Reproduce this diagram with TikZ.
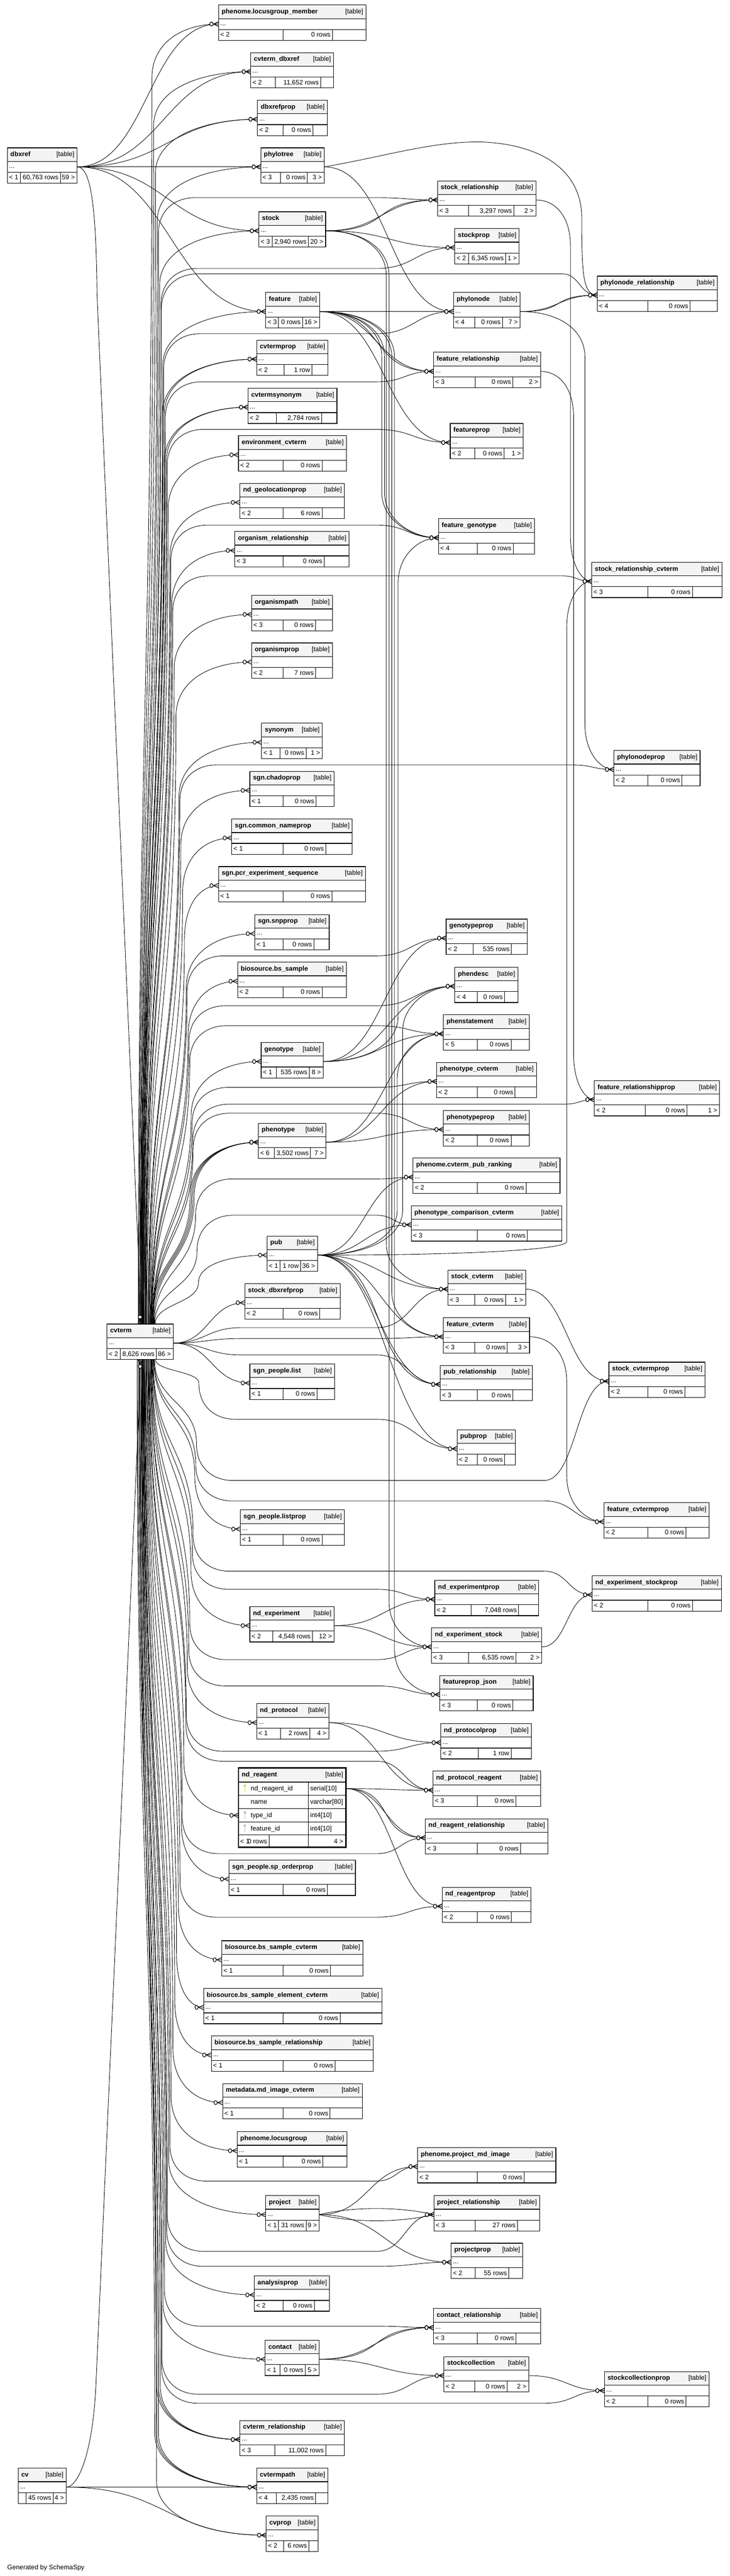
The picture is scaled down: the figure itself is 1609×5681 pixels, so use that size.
\documentclass[tikz,border=0pt]{standalone}
\usepackage{fontspec}
\setmainfont{Liberation Sans}
\usetikzlibrary{calc}
\pgfdeclarelayer{back}
\pgfdeclarelayer{bg}
\pgfdeclarelayer{fg}
\pgfsetlayers{back,bg,main,fg}
\definecolor{hdrfill}{RGB}{244,244,244}
\definecolor{keyyellow}{RGB}{225,215,0}
\definecolor{keygray}{RGB}{185,185,185}
\newcommand\tfont{\fontsize{14.5}{17}\selectfont}
\tikzset{
  fk/.style={line width=1pt, draw=black},
  crowln/.style={line width=1.3pt, draw=black},
  tblbox/.style={draw=black, line width=1.3pt, fill=white, anchor=north west, inner sep=0pt, outer sep=0pt, minimum height=78pt},
  hdrbox/.style={draw=black, line width=1.3pt, fill=hdrfill, anchor=north west, inner sep=0pt, outer sep=0pt, minimum height=30pt},
  rowbox/.style={draw=black, line width=1.3pt, fill=white, anchor=north west, inner sep=0pt, outer sep=0pt, minimum height=24pt},
  cellln/.style={line width=0.9pt, draw=black},
  txt/.style={inner sep=0pt, outer sep=0pt, font=\tfont},
  tbold/.style={inner sep=0pt, outer sep=0pt, font=\tfont\bfseries},
}
\newcommand\setport[4]{%
  \expandafter\xdef\csname wx:#1\endcsname{#2}%
  \expandafter\xdef\csname ex:#1\endcsname{#3}%
  \expandafter\xdef\csname py:#1\endcsname{#4}}
\newcommand\WX[1]{\csname wx:#1\endcsname}
\newcommand\EX[1]{\csname ex:#1\endcsname}
\newcommand\PY[1]{\csname py:#1\endcsname}
% table: id x1 y1 x2 name
\newcommand\dbt[5]{%
  \pgfmathsetmacro\tW{#4-#2}%
  \pgfmathsetmacro\tPy{#3+42}%
  \setport{#1-r}{#2}{#4}{\tPy}%
  \xdef\tXa{#2}\xdef\tXb{#4}\xdef\tY{#3}%
  \node[tblbox, minimum width=\tW pt] (#1-box) at (#2,#3) {};%
  \node[hdrbox, minimum width=\tW pt] (#1) at (#2,#3) {};%
  \node[tbold, anchor=base west] (#1-name) at ([xshift=7pt,yshift=-4pt]#1.west) {#5};%
  \node[txt, anchor=base east] (#1-tag) at ([xshift=-6pt,yshift=-4pt]#1.east) {[table]};%
  \node[rowbox, minimum width=\tW pt] (#1-r) at (#1.south west) {};%
  \node[txt, anchor=base west] (#1-dots) at ([xshift=4pt,yshift=-3pt]#1-r.west) {...};%
}
% footer: id s1 s2 f1 f2 f3
\newcommand\dbf[6]{%
  \draw[cellln] (#2,\tY+54) -- (#2,\tY+78) (#3,\tY+54) -- (#3,\tY+78);%
  \node[txt, anchor=base west] (#1-fa) at (\tXa+4,\tY+70.5) {#4};%
  \node[txt, anchor=base east] (#1-fb) at (#3-4,\tY+70.5) {#5};%
  \node[txt, anchor=base east] (#1-fc) at (\tXb-5,\tY+70.5) {#6};%
}
\newcommand\crow[1]{%
  \begin{pgfonlayer}{fg}%
  \draw[crowln] ([xshift=-11pt]#1.west) -- ([yshift=5pt]#1.west) ([xshift=-11pt]#1.west) -- ([yshift=-5pt]#1.west);%
  \draw[crowln, fill=white] ([xshift=-15.5pt]#1.west) ellipse [x radius=3.6pt, y radius=4.4pt];%
  \end{pgfonlayer}}
\newcommand\sedge[3][0]{%
  \pgfmathsetmacro\eK{max(40,0.5*abs(\WX{#3}-\EX{#2}))+#1}%
  \begin{pgfonlayer}{bg}\draw[fk] (#2.east) .. controls +(\eK,0) and +(-\eK,0) .. (#3.west);\end{pgfonlayer}%
  \crow{#3}}
\newcommand\tedge[4][100]{%
  \pgfmathsetmacro\eAx{\EX{#2}}\pgfmathsetmacro\eAy{\PY{#2}}%
  \pgfmathsetmacro\eBx{\WX{#3}}\pgfmathsetmacro\eBy{\PY{#3}}%
  \pgfmathsetmacro\eS{sign(\eBy-\eAy)}%
  \pgfmathsetmacro\eYa{\eAy+\eS*#1}\pgfmathsetmacro\eYb{\eBy-\eS*100}%
  \pgfmathsetmacro\eCya{\eAy+\eS*0.4*#1}\pgfmathsetmacro\eCyb{\eBy-\eS*40}%
  \pgfmathsetmacro\eCa{\eAx+0.6*(#4-\eAx)}\pgfmathsetmacro\eCb{#4+0.5*(\eBx-#4)}%
  \begin{pgfonlayer}{bg}\draw[fk] (#2.east) .. controls (\eCa,\eAy) and (#4,\eCya) .. (#4,\eYa) -- (#4,\eYb) .. controls (#4,\eCyb) and (\eCb,\eBy) .. (#3.west);\end{pgfonlayer}%
  \crow{#3}}
\newcommand\cvdrawA[2]{\begin{pgfonlayer}{bg}\draw[fk] ([xshift=\eDx pt]cvterm-box.#1) .. controls (\eXo,\eYm) and (\eXb,\eYm) .. (\eXb,\eYp) .. controls (\eXb,\eYc) and (\eXc,\eBy) .. (#2.west);\end{pgfonlayer}}
\newcommand\cvdrawB[2]{\begin{pgfonlayer}{bg}\draw[fk] ([xshift=\eDx pt]cvterm-box.#1) .. controls (\eXo,\eYm) and (\eXb,\eYm) .. (\eXb,\eYp) .. controls (\eXb,\eYc) and (\eXq,\eYg) .. (\eXh,\eYg) -- (\eXm,\eYg) .. controls (\eXc,\eYg) and (\eXc,\eBy) .. (#2.west);\end{pgfonlayer}}
\newcommand\cvA[2][0]{%
  \pgfmathsetmacro\eBx{\WX{#2}}\pgfmathsetmacro\eBy{\PY{#2}}%
  \pgfmathsetmacro\eS{sign(\eBy-2960)}%
  \pgfmathsetmacro\eYs{\eS<0 ? 2920 : 2998}%
  \pgfmathsetmacro\eF{min(1,abs(\eBy-2960)/2900)}%
  \pgfmathsetmacro\eDx{36-40*\eF+#1}%
  \pgfmathsetmacro\eXo{345-40*\eF+#1}%
  \pgfmathsetmacro\eXb{445-110*\eF+#1}%
  \pgfmathsetmacro\eR{min(120,0.4*abs(\eBy-\eYs))}%
  \pgfmathsetmacro\eYp{\eBy-\eS*\eR}%
  \pgfmathsetmacro\eYm{(\eYs+\eYp)/2}%
  \pgfmathsetmacro\eYc{\eBy-\eS*0.3*\eR}%
  \pgfmathsetmacro\eXc{\eXb+0.5*(\eBx-\eXb)}%
  \ifdim\eS pt<0pt \cvdrawA{north}{#2}\else\cvdrawA{south}{#2}\fi
  \crow{#2}}
\newcommand\cvB[4][0]{%
  \pgfmathsetmacro\eBx{\WX{#2}}\pgfmathsetmacro\eBy{\PY{#2}}%
  \pgfmathsetmacro\eS{sign(#3-2960)}%
  \pgfmathsetmacro\eYs{\eS<0 ? 2920 : 2998}%
  \pgfmathsetmacro\eF{min(1,abs(#3-2960)/2900)}%
  \pgfmathsetmacro\eDx{36-40*\eF+#1}%
  \pgfmathsetmacro\eXo{345-40*\eF+#1}%
  \pgfmathsetmacro\eXb{445-110*\eF+#1}%
  \pgfmathsetmacro\eYp{#3-\eS*80}%
  \pgfmathsetmacro\eYm{(\eYs+\eYp)/2}%
  \pgfmathsetmacro\eYc{#3-\eS*24}%
  \pgfmathsetmacro\eXq{\eXb+40}\pgfmathsetmacro\eXh{\eXb+80}%
  \pgfmathsetmacro\eXc{#4+0.5*(\eBx-#4)}%
  \def\eYg{#3}\def\eXm{#4}%
  \ifdim\eS pt<0pt \cvdrawB{north}{#2}\else\cvdrawB{south}{#2}\fi
  \crow{#2}}
\newcommand\cvE[3]{%
  \pgfmathsetmacro\eBx{\WX{#1}}\pgfmathsetmacro\eBy{\PY{#1}}%
  \pgfmathsetmacro\eXc{#3+0.5*(\eBx-#3)}%
  \begin{pgfonlayer}{bg}\draw[fk] (cvterm-r.east) .. controls (450,2962) and (460,#2) .. (530,#2) -- (#3,#2) .. controls (\eXc,#2) and (\eXc,\eBy) .. (#1.west);\end{pgfonlayer}%
  \crow{#1}}

\begin{document}
\begin{tikzpicture}[x=1pt,y=-1pt]
\useasboundingbox (0,0) rectangle (1609,5681);
\begin{pgfonlayer}{back}\fill[white] (0,0) rectangle (1609,5681);\end{pgfonlayer}

% ---------------- tables ----------------
\dbt{lgm}{482}{11}{807}{phenome.locusgroup\_member}\dbf{lgm}{624}{733}{< 2}{0 rows}{}
\dbt{cvdbx}{553}{116}{736}{cvterm\_dbxref}\dbf{cvdbx}{607}{707}{< 2}{11,652 rows}{}
\dbt{dbxp}{568}{221}{722}{dbxrefprop}\dbf{dbxp}{624}{690}{< 2}{0 rows}{}
\dbt{dbxref}{16}{326}{170}{dbxref}\dbf{dbxref}{45}{133}{< 1}{60,763 rows}{59 >}
\dbt{ptree}{575}{326}{715}{phylotree}\dbf{ptree}{619}{678}{< 3}{0 rows}{3 >}
\dbt{stock}{571}{467}{718}{stock}\dbf{stock}{600}{680}{< 3}{2,940 rows}{20 >}
\dbt{srel}{965}{399}{1182}{stock\_relationship}\dbf{srel}{1033}{1133}{< 3}{3,297 rows}{2 >}
\dbt{sprop}{1003}{504}{1145}{stockprop}\dbf{sprop}{1033}{1115}{< 2}{6,345 rows}{1 >}
\dbt{pnrel}{1317}{609}{1582}{phylonode\_relationship}\dbf{pnrel}{1429}{1522}{< 4}{0 rows}{}
\dbt{pnode}{1000}{645}{1147}{phylonode}\dbf{pnode}{1047}{1108}{< 4}{0 rows}{7 >}
\dbt{feat}{586}{645}{705}{feature}\dbf{feat}{614}{667}{< 3}{0 rows}{16 >}
\dbt{frel}{956}{777}{1192}{feature\_relationship}\dbf{frel}{1048}{1131}{< 3}{0 rows}{2 >}
\dbt{cvp}{566}{750}{723}{cvtermprop}\dbf{cvp}{627}{688}{< 2}{1 row}{}
\dbt{cvsyn}{547}{856}{743}{cvtermsynonym}\dbf{cvsyn}{610}{709}{< 2}{2,784 rows}{}
\dbt{fprop}{993}{934}{1154}{featureprop}\dbf{fprop}{1047}{1112}{< 2}{0 rows}{1 >}
\dbt{envcv}{526}{961}{764}{environment\_cvterm}\dbf{envcv}{624}{710}{< 2}{0 rows}{}
\dbt{ndgp}{529}{1066}{760}{nd\_geolocationprop}\dbf{ndgp}{624}{710}{< 2}{6 rows}{}
\dbt{fgen}{967}{1144}{1179}{feature\_genotype}\dbf{fgen}{1052}{1132}{< 4}{0 rows}{}
\dbt{orgrel}{518}{1172}{770}{organism\_relationship}\dbf{orgrel}{624}{715}{< 3}{0 rows}{}
\dbt{srelcv}{1305}{1240}{1592}{stock\_relationship\_cvterm}\dbf{srelcv}{1429}{1527}{< 3}{0 rows}{}
\dbt{orgpath}{555}{1313}{733}{organismpath}\dbf{orgpath}{624}{696}{< 3}{0 rows}{}
\dbt{orgprop}{555}{1418}{733}{organismprop}\dbf{orgprop}{624}{696}{< 2}{7 rows}{}
\dbt{syn}{577}{1595}{711}{synonym}\dbf{syn}{617}{675}{< 1}{0 rows}{1 >}
\dbt{pnprop}{1354}{1655}{1544}{phylonodeprop}\dbf{pnprop}{1429}{1504}{< 2}{0 rows}{}
\dbt{chadop}{551}{1701}{737}{sgn.chadoprop}\dbf{chadop}{624}{697}{< 1}{0 rows}{}
\dbt{cnp}{511}{1806}{777}{sgn.common\_nameprop}\dbf{cnp}{624}{718}{< 1}{0 rows}{}
\dbt{pcr}{482}{1911}{806}{sgn.pcr\_experiment\_sequence}\dbf{pcr}{624}{732}{< 1}{0 rows}{}
\dbt{snpp}{562}{2017}{726}{sgn.snpprop}\dbf{snpp}{624}{692}{< 1}{0 rows}{}
\dbt{gprop}{984}{2027}{1163}{genotypeprop}\dbf{gprop}{1044}{1128}{< 2}{535 rows}{}
\dbt{bss}{524}{2122}{764}{biosource.bs\_sample}\dbf{bss}{624}{710}{< 2}{0 rows}{}
\dbt{phendesc}{1003}{2133}{1142}{phendesc}\dbf{phendesc}{1052}{1113}{< 4}{0 rows}{}
\dbt{phenst}{978}{2238}{1167}{phenstatement}\dbf{phenst}{1052}{1127}{< 5}{0 rows}{}
\dbt{geno}{576}{2299}{713}{genotype}\dbf{geno}{610}{682}{< 1}{535 rows}{8 >}
\dbt{phcv}{963}{2343}{1183}{phenotype\_cvterm}\dbf{phcv}{1052}{1136}{< 2}{0 rows}{}
\dbt{frelp}{1311}{2383}{1587}{feature\_relationshipprop}\dbf{frelp}{1423}{1515}{< 2}{0 rows}{1 >}
\dbt{phprop}{978}{2449}{1167}{phenotypeprop}\dbf{phprop}{1052}{1127}{< 2}{0 rows}{}
\dbt{pheno}{570}{2477}{719}{phenotype}\dbf{pheno}{605}{685}{< 6}{3,502 rows}{7 >}
\dbt{cpr}{911}{2554}{1235}{phenome.cvterm\_pub\_ranking}\dbf{cpr}{1052}{1160}{< 2}{0 rows}{}
\dbt{pcc}{907}{2659}{1239}{phenotype\_comparison\_cvterm}\dbf{pcc}{1052}{1163}{< 3}{0 rows}{}
\dbt{pub}{589}{2726}{700}{pub}\dbf{pub}{617}{663}{< 1}{1 row}{36 >}
\dbt{scv}{988}{2801}{1159}{stock\_cvterm}\dbf{scv}{1047}{1115}{< 3}{0 rows}{1 >}
\dbt{sdbxp}{540}{2831}{750}{stock\_dbxrefprop}\dbf{sdbxp}{624}{705}{< 2}{0 rows}{}
\dbt{fcv}{978}{2906}{1168}{feature\_cvterm}\dbf{fcv}{1047}{1119}{< 3}{0 rows}{3 >}
\dbt{cvterm}{236}{2920}{382}{cvterm}\dbf{cvterm}{265}{345}{< 2}{8,626 rows}{86 >}
\dbt{list}{551}{3008}{738}{sgn\_people.list}\dbf{list}{624}{699}{< 1}{0 rows}{}
\dbt{pubrel}{971}{3011}{1174}{pub\_relationship}\dbf{pubrel}{1052}{1131}{< 3}{0 rows}{}
\dbt{scvp}{1343}{3004}{1555}{stock\_cvtermprop}\dbf{scvp}{1429}{1510}{< 2}{0 rows}{}
\dbt{pubprop}{1008}{3153}{1137}{pubprop}\dbf{pubprop}{1052}{1113}{< 2}{0 rows}{}
\dbt{listp}{530}{3330}{760}{sgn\_people.listprop}\dbf{listp}{624}{710}{< 1}{0 rows}{}
\dbt{fcvp}{1332}{3314}{1564}{feature\_cvtermprop}\dbf{fcvp}{1429}{1513}{< 2}{0 rows}{}
\dbt{nesp}{1306}{3475}{1591}{nd\_experiment\_stockprop}\dbf{nesp}{1429}{1527}{< 2}{0 rows}{}
\dbt{nexpp}{959}{3485}{1188}{nd\_experimentprop}\dbf{nexpp}{1039}{1144}{< 2}{7,048 rows}{}
\dbt{nexp}{551}{3543}{737}{nd\_experiment}\dbf{nexp}{601}{689}{< 2}{4,548 rows}{12 >}
\dbt{nes}{952}{3590}{1195}{nd\_experiment\_stock}\dbf{nes}{1033}{1138}{< 3}{6,535 rows}{2 >}
\dbt{fpj}{970}{3695}{1176}{featureprop\_json}\dbf{fpj}{1052}{1131}{< 3}{0 rows}{}
\dbt{nprot}{566}{3757}{725}{nd\_protocol}\dbf{nprot}{618}{683}{< 1}{2 rows}{4 >}
\dbt{nprotp}{972}{3801}{1172}{nd\_protocolprop}\dbf{nprotp}{1055}{1127}{< 2}{1 row}{}
\dbt{npr}{955}{3906}{1192}{nd\_protocol\_reagent}\dbf{npr}{1052}{1138}{< 3}{0 rows}{}
\dbt{nrr}{938}{4011}{1208}{nd\_reagent\_relationship}\dbf{nrr}{1052}{1148}{< 3}{0 rows}{}
\dbt{spo}{505}{4102}{784}{sgn\_people.sp\_orderprop}\dbf{spo}{624}{722}{< 1}{0 rows}{}
\dbt{nrp}{975}{4162}{1171}{nd\_reagentprop}\dbf{nrp}{1052}{1128}{< 2}{0 rows}{}
\dbt{bsscv}{489}{4280}{800}{biosource.bs\_sample\_cvterm}\dbf{bsscv}{624}{729}{< 1}{0 rows}{}
\dbt{bssecv}{449}{4385}{842}{biosource.bs\_sample\_element\_cvterm}\dbf{bssecv}{624}{750}{< 1}{0 rows}{}
\dbt{bssrel}{466}{4490}{823}{biosource.bs\_sample\_relationship}\dbf{bssrel}{624}{739}{< 1}{0 rows}{}
\dbt{mdcv}{491}{4595}{799}{metadata.md\_image\_cvterm}\dbf{mdcv}{624}{728}{< 1}{0 rows}{}
\dbt{lg}{523}{4701}{765}{phenome.locusgroup}\dbf{lg}{624}{712}{< 1}{0 rows}{}
\dbt{pmdi}{921}{4736}{1226}{phenome.project\_md\_image}\dbf{pmdi}{1052}{1156}{< 2}{0 rows}{}
\dbt{proj}{586}{4842}{704}{project}\dbf{proj}{614}{675}{< 1}{31 rows}{9 >}
\dbt{projrel}{957}{4842}{1190}{project\_relationship}\dbf{projrel}{1048}{1141}{< 3}{27 rows}{}
\dbt{projp}{995}{4947}{1153}{projectprop}\dbf{projp}{1048}{1122}{< 2}{55 rows}{}
\dbt{anap}{561}{5019}{727}{analysisprop}\dbf{anap}{624}{693}{< 2}{0 rows}{}
\dbt{crel}{956}{5091}{1192}{contact\_relationship}\dbf{crel}{1052}{1138}{< 3}{0 rows}{}
\dbt{contact}{585}{5161}{704}{contact}\dbf{contact}{617}{673}{< 1}{0 rows}{5 >}
\dbt{scol}{979}{5197}{1166}{stockcollection}\dbf{scol}{1047}{1118}{< 2}{0 rows}{2 >}
\dbt{scolp}{1333}{5230}{1564}{stockcollectionprop}\dbf{scolp}{1429}{1513}{< 2}{0 rows}{}
\dbt{cvrel}{529}{5338}{760}{cvterm\_relationship}\dbf{cvrel}{606}{718}{< 3}{11,002 rows}{}
\dbt{cv}{40}{5443}{146}{cv}\dbf{cv}{57}{117}{}{45 rows}{4 >}
\dbt{cvpath}{566}{5443}{723}{cvtermpath}\dbf{cvpath}{609}{696}{< 4}{2,435 rows}{}
\dbt{cvprop}{587}{5549}{702}{cvprop}\dbf{cvprop}{625}{681}{< 2}{6 rows}{}

% focused table nd_reagent
\node[tblbox, minimum width=237pt, minimum height=175pt] (nreag-box) at (526,3899) {};
\node[hdrbox, minimum width=237pt, minimum height=31pt] (nreag) at (526,3899) {};
\node[tbold, anchor=base west] (nreag-name) at ([xshift=7pt,yshift=-4pt]nreag.west) {nd\_reagent};
\node[txt, anchor=base east] (nreag-tag) at ([xshift=-6pt,yshift=-4pt]nreag.east) {[table]};
\node[rowbox, minimum width=237pt, minimum height=29pt] (nreag-r) at (526,3930) {};
\node[rowbox, minimum width=237pt, minimum height=30pt] (nreag-n) at (526,3959) {};
\node[rowbox, minimum width=237pt, minimum height=29pt] (nreag-t) at (526,3989) {};
\node[rowbox, minimum width=237pt, minimum height=29pt] (nreag-f) at (526,4018) {};
\draw[cellln] (680,3930) -- (680,4047);
\draw[cellln] (593,4047) -- (593,4074) (680,4047) -- (680,4074);
\node[txt, anchor=base west] (nreag-c1) at (553,3949) {nd\_reagent\_id};
\node[txt, anchor=base west] (nreag-d1) at (684,3949) {serial[10]};
\node[txt, anchor=base west] (nreag-c2) at (553,3978.5) {name};
\node[txt, anchor=base west] (nreag-d2) at (684,3978.5) {varchar[80]};
\node[txt, anchor=base west] (nreag-c3) at (553,4008) {type\_id};
\node[txt, anchor=base west] (nreag-d3) at (684,4008) {int4[10]};
\node[txt, anchor=base west] (nreag-c4) at (553,4037) {feature\_id};
\node[txt, anchor=base west] (nreag-d4) at (684,4037) {int4[10]};
\node[txt, anchor=base west] (nreag-fa) at (530,4065.5) {< 1};
\node[txt, anchor=base east] (nreag-fb) at (589,4065.5) {0 rows};
\node[txt, anchor=base east] (nreag-fc) at (757,4065.5) {4 >};
\fill[keyyellow] (540,3938) circle (2.6pt);
\draw[keyyellow, line width=1.7pt] (540,3939) -- (540,3953);
\fill[keygray] (540,3997) circle (2.6pt);
\draw[keygray, line width=1.7pt] (540,3998) -- (540,4012);
\fill[keygray] (540,4026) circle (2.6pt);
\draw[keygray, line width=1.7pt] (540,4027) -- (540,4041);
\draw[line width=3pt] (526,3899) rectangle (763,4074);
\setport{nreag-r}{526}{763}{3944.5}
\setport{nreag-t}{526}{763}{4003.5}

\node[txt, anchor=base west] (gen) at (16,5667) {Generated by SchemaSpy};

% ---------------- connectors ----------------
% dbxref
\sedge{dbxref-r}{lgm-r}
\sedge{dbxref-r}{cvdbx-r}
\sedge{dbxref-r}{dbxp-r}
\sedge{dbxref-r}{ptree-r}
\sedge{dbxref-r}{stock-r}
\sedge{dbxref-r}{feat-r}
\begin{pgfonlayer}{bg}\draw[fk] (dbxref-r.east) .. controls (200,368) and (212,450) .. (214,650) -- (300,2650) .. controls (306,2780) and (309,2840) .. (cvterm-box.north);\end{pgfonlayer}
\begin{pgfonlayer}{fg}
\draw[crowln] ([yshift=11pt]cvterm-box.north) -- ([xshift=-5pt]cvterm-box.north) ([yshift=11pt]cvterm-box.north) -- ([xshift=5pt]cvterm-box.north);
\draw[crowln,fill=white] ([yshift=15.5pt]cvterm-box.north) circle (4pt);
\end{pgfonlayer}
% cv
\sedge{cv-r}{cvpath-r}
\sedge{cv-r}{cvprop-r}
\begin{pgfonlayer}{bg}\draw[fk] (cv-r.east) .. controls (170,5485) and (205,5420) .. (212,5250) -- (300,3250) .. controls (306,3120) and (309,3060) .. (cvterm-box.south);\end{pgfonlayer}
\begin{pgfonlayer}{fg}
\draw[crowln] ([yshift=-11pt]cvterm-box.south) -- ([xshift=-5pt]cvterm-box.south) ([yshift=-11pt]cvterm-box.south) -- ([xshift=5pt]cvterm-box.south);
\draw[crowln,fill=white] ([yshift=-15.5pt]cvterm-box.south) circle (4pt);
\end{pgfonlayer}

% cvterm -> column 2 (above)
\cvA{lgm-r}
\cvA{cvdbx-r}
\cvA{dbxp-r}
\cvA{ptree-r}
\cvA{stock-r}
\cvA{feat-r}
\cvA{cvp-r}
\cvA[-4]{cvp-r}
\cvA{cvsyn-r}
\cvA[-4]{cvsyn-r}
\cvA{envcv-r}
\cvA{ndgp-r}
\cvA{orgrel-r}
\cvA{orgpath-r}
\cvA{orgprop-r}
\cvA{syn-r}
\cvA{chadop-r}
\cvA{cnp-r}
\cvA{pcr-r}
\cvA{snpp-r}
\cvA{bss-r}
\cvA{geno-r}
\cvA{pheno-r}
\cvA[-3]{pheno-r}
\cvA[-6]{pheno-r}
\cvA[-9]{pheno-r}
\cvA{pub-r}
% cvterm -> columns 3/4 (above)
\cvB{srel-r}{436}{830}
\cvB{sprop-r}{592}{830}
\cvB{pnrel-r}{604}{1240}
\cvB{pnode-r}{736}{830}
\cvB{frel-r}{842}{830}
\cvB{fprop-r}{947}{830}
\cvB{fgen-r}{1158}{830}
\cvB{srelcv-r}{1270}{1240}
\cvB{pnprop-r}{1687}{1262}
\cvB{gprop-r}{2108}{830}
\cvB{phendesc-r}{2218}{830}
\cvB{phenst-r}{2262}{830}
\cvB{phcv-r}{2398}{830}
\cvB{frelp-r}{2435}{1245}
\cvB{phprop-r}{2455}{830}
\cvB{cpr-r}{2600}{830}
\cvB{pcc-r}{2680}{830}
% cvterm -> near tables
\sedge{cvterm-r}{sdbxp-r}
\sedge{cvterm-r}{list-r}
\cvE{scv-r}{2928}{830}
\cvE{fcv-r}{2952}{830}
\cvE{pubrel-r}{2988}{830}
% cvterm -> column 2 (below)
\cvA{listp-r}
\cvA{nexp-r}
\cvA{nprot-r}
\cvA{nreag-t}
\cvA{spo-r}
\cvA{bsscv-r}
\cvA{bssecv-r}
\cvA{bssrel-r}
\cvA{mdcv-r}
\cvA{lg-r}
\cvA{proj-r}
\cvA{anap-r}
\cvA{contact-r}
\cvA{cvrel-r}
\cvA[-4]{cvrel-r}
\cvA[-8]{cvrel-r}
\cvA{cvpath-r}
\cvA[-4]{cvpath-r}
\cvA[-8]{cvpath-r}
\cvA{cvprop-r}
% cvterm -> columns 3/4 (below)
\cvB{pubprop-r}{3130}{830}
\cvB{scvp-r}{3265}{1200}
\cvB{fcvp-r}{3310}{1200}
\cvB{nesp-r}{3465}{1200}
\cvB{nexpp-r}{3505}{830}
\cvB{nes-r}{3660}{830}
\cvB{fpj-r}{3718}{830}
\cvB{nprotp-r}{3862}{830}
\cvB{npr-r}{3884}{830}
\cvB{nrr-r}{4088}{830}
\cvB{nrp-r}{4228}{830}
\cvB{pmdi-r}{4810}{830}
\cvB{projrel-r}{4965}{830}
\cvB{projp-r}{4998}{830}
\cvB{crel-r}{5130}{830}
\cvB{scol-r}{5280}{830}
\cvB{scolp-r}{5300}{1200}

% stock
\sedge{stock-r}{srel-r}
\sedge[30]{stock-r}{srel-r}
\sedge{stock-r}{sprop-r}
\tedge{stock-r}{scv-r}{852}
\tedge{stock-r}{nes-r}{858}
% feature
\sedge{feat-r}{pnode-r}
\sedge{feat-r}{frel-r}
\sedge[25]{feat-r}{frel-r}
\sedge{feat-r}{fprop-r}
\tedge{feat-r}{fgen-r}{842}
\tedge{feat-r}{fgen-r}{848}
\tedge{feat-r}{fcv-r}{864}
\tedge{feat-r}{fpj-r}{870}
% phylotree / phylonode
\sedge{ptree-r}{pnode-r}
\begin{pgfonlayer}{bg}\draw[fk] (ptree-r.east) .. controls (850,345) and (950,312) .. (1060,313) .. controls (1200,318) and (1283,380) .. (1283,480) .. controls (1283,600) and (1285,651) .. (pnrel-r.west);\end{pgfonlayer}
\crow{pnrel-r}
\sedge{pnode-r}{pnrel-r}
\sedge[25]{pnode-r}{pnrel-r}
\tedge{pnode-r}{pnprop-r}{1290}
\tedge{srel-r}{srelcv-r}{1258}
\tedge{frel-r}{frelp-r}{1265}
% genotype / phenotype
\tedge{geno-r}{fgen-r}{878}
\sedge{geno-r}{gprop-r}
\sedge{geno-r}{phendesc-r}
\sedge{geno-r}{phenst-r}
\sedge{pheno-r}{phenst-r}
\sedge{pheno-r}{phcv-r}
\sedge{pheno-r}{phprop-r}
% pub
\tedge{pub-r}{phendesc-r}{888}
\tedge{pub-r}{phenst-r}{876}
\sedge{pub-r}{cpr-r}
\sedge{pub-r}{pcc-r}
\sedge{pub-r}{scv-r}
\sedge{pub-r}{fcv-r}
\sedge{pub-r}{pubrel-r}
\sedge[25]{pub-r}{pubrel-r}
\sedge{pub-r}{pubprop-r}
\tedge[30]{pub-r}{srelcv-r}{1250}
% others
\sedge{scv-r}{scvp-r}
\tedge{fcv-r}{fcvp-r}{1250}
\sedge{nexp-r}{nexpp-r}
\sedge{nexp-r}{nes-r}
\sedge{nes-r}{nesp-r}
\sedge{nprot-r}{nprotp-r}
\sedge{nprot-r}{npr-r}
\sedge{nreag-r}{npr-r}
\sedge{nreag-r}{nrr-r}
\sedge[25]{nreag-r}{nrr-r}
\sedge{nreag-r}{nrp-r}
\sedge{proj-r}{pmdi-r}
\begin{pgfonlayer}{bg}
\draw[fk] (proj-r.east) .. controls (780,4866) and (880,4866) .. (projrel-r.west);
\draw[fk] (proj-r.east) .. controls (780,4902) and (880,4902) .. (projrel-r.west);
\end{pgfonlayer}
\crow{projrel-r}
\sedge{proj-r}{projp-r}
\sedge{contact-r}{crel-r}
\sedge[30]{contact-r}{crel-r}
\sedge{contact-r}{scol-r}
\sedge{scol-r}{scolp-r}
\end{tikzpicture}
\end{document}
